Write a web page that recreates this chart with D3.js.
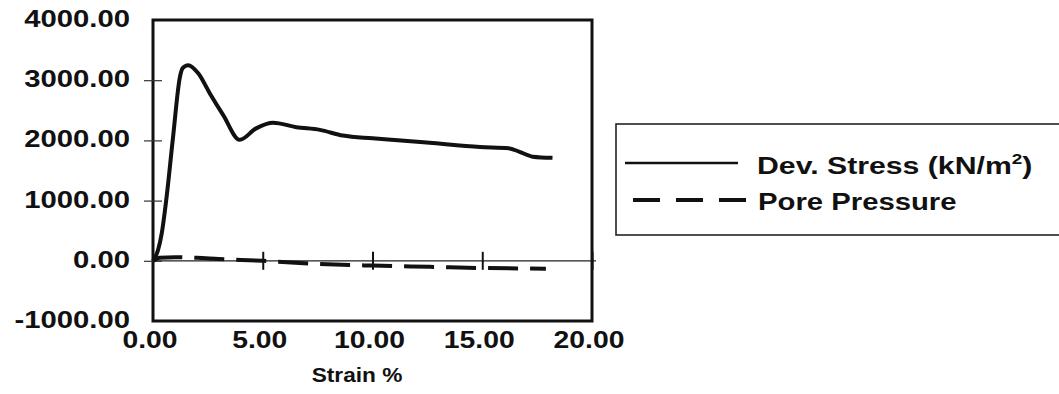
<!DOCTYPE html>
<html>
<head>
<meta charset="utf-8">
<script src="https://cdn.jsdelivr.net/npm/d3@7"></script>
<style>
  body { margin: 0; background: #fff; }
  svg { display: block; }
  text { font-family: "Liberation Sans", Arial, sans-serif; font-weight: bold; fill: #111; }
</style>
</head>
<body>
<svg id="chart"></svg>
<script>
// data
const strain = [0, 0.23, 0.4, 0.6, 0.9, 1.23, 1.35, 1.6, 2.06, 2.59, 3.2, 3.95, 4.7, 5.47, 6.53, 7.6, 8.65, 10.0, 11.3, 12.6, 14.9, 16.2, 16.7, 17.3, 18.2];
const devStress = [0, 180, 460, 1000, 2010, 3060, 3200, 3250, 3115, 2780, 2420, 2010, 2200, 2295, 2220, 2175, 2080, 2035, 2000, 1960, 1890, 1870, 1810, 1730, 1710];
const poreStrain = [0, 0.3, 1.0, 2.0, 3.0, 5.0, 7.3, 10.0, 12.6, 15.0, 17.9];
const porePressure = [0, 50, 60, 50, 30, 0, -50, -80, -100, -120, -130];
const xTicks = [0, 5, 10, 15, 20];
const yTicks = [-1000, 0, 1000, 2000, 3000, 4000];
const seriesNames = ["Dev. Stress (kN/m", "Pore Pressure"];

const width = 1059, height = 394;
const plotLeft = 153, plotRight = 592, plotTop = 20, plotBottom = 321;
const stretch = 1.22; // the scan is stretched sideways

// plain hyphen for negatives, as in the original
const fmt = d => d3.format('.2f')(d).replace('\u2212', '-');

const svg = d3.select('#chart').attr('width', width).attr('height', height);

const x = d3.scaleLinear().domain([0, 20]).range([plotLeft, plotRight]);
const y = d3.scaleLinear().domain([-1000, 4000]).range([plotBottom, plotTop]);

// plot area frame
svg.append('rect')
  .attr('x', plotLeft).attr('y', plotTop)
  .attr('width', plotRight - plotLeft).attr('height', plotBottom - plotTop)
  .attr('fill', 'none').attr('stroke', '#111').attr('stroke-width', 3);

// x axis runs along zero stress
svg.append('line')
  .attr('x1', plotLeft).attr('x2', plotRight + 4)
  .attr('y1', y(0)).attr('y2', y(0))
  .attr('stroke', '#222').attr('stroke-width', 1.3);

// crossing tick marks
svg.append('g')
  .attr('transform', `translate(0,${y(0) - 9})`)
  .call(d3.axisBottom(x).tickValues(xTicks.slice(1)).tickSize(18).tickFormat(''))
  .call(g => g.select('.domain').remove())
  .call(g => g.selectAll('line').attr('stroke', '#111').attr('stroke-width', 2));

svg.append('g')
  .attr('transform', `translate(${plotLeft + 9},0)`)
  .call(d3.axisLeft(y).tickValues(yTicks.slice(1, -1)).tickSize(18).tickFormat(''))
  .call(g => g.select('.domain').remove())
  .call(g => g.selectAll('line').attr('stroke', '#333').attr('stroke-width', 1.2));

// tick labels
svg.append('g').selectAll('text')
  .data(yTicks)
  .enter().append('text')
  .attr('transform', d => `translate(130,${y(d) + 7}) scale(${stretch},1)`)
  .attr('text-anchor', 'end')
  .attr('font-size', 24)
  .text(fmt);

svg.append('g').selectAll('text')
  .data(xTicks)
  .enter().append('text')
  .attr('transform', d => `translate(${x(d) - 3},348) scale(1.18,1)`)
  .attr('text-anchor', 'middle')
  .attr('font-size', 24)
  .text(fmt);

svg.append('text')
  .attr('transform', `translate(357,382) scale(1.08,1)`)
  .attr('text-anchor', 'middle')
  .attr('font-size', 21)
  .text('Strain %');

// series
const stressLine = d3.line()
  .x((d, i) => x(strain[i]))
  .y(d => y(d))
  .curve(d3.curveMonotoneX);

svg.append('path')
  .datum(devStress)
  .attr('d', stressLine)
  .attr('fill', 'none').attr('stroke', '#111')
  .attr('stroke-width', 4).attr('stroke-linejoin', 'round');

const poreLine = d3.line()
  .x((d, i) => x(poreStrain[i]))
  .y(d => y(d))
  .curve(d3.curveMonotoneX);

svg.append('path')
  .datum(porePressure)
  .attr('d', poreLine)
  .attr('fill', 'none').attr('stroke', '#111')
  .attr('stroke-width', 4).attr('stroke-dasharray', '30,12');

// legend
const legend = svg.append('g');
legend.append('rect')
  .attr('x', 616).attr('y', 124)
  .attr('width', 460).attr('height', 111)
  .attr('fill', 'none').attr('stroke', '#222').attr('stroke-width', 1.6);

legend.append('line')
  .attr('x1', 625).attr('x2', 738).attr('y1', 163).attr('y2', 163)
  .attr('stroke', '#111').attr('stroke-width', 2.5);

legend.append('line')
  .attr('x1', 633).attr('x2', 747).attr('y1', 200).attr('y2', 200)
  .attr('stroke', '#111').attr('stroke-width', 4).attr('stroke-dasharray', '27,16');

const devLabel = legend.append('text')
  .attr('transform', `translate(757,174) scale(1.26,1)`)
  .attr('font-size', 24);
devLabel.append('tspan').text(seriesNames[0]);
devLabel.append('tspan').attr('font-size', 15).attr('dy', -10).text('2');
devLabel.append('tspan').attr('dy', 10).text(')');

legend.append('text')
  .attr('transform', `translate(758,210) scale(${stretch},1)`)
  .attr('font-size', 24)
  .text(seriesNames[1]);
</script>
</body>
</html>
